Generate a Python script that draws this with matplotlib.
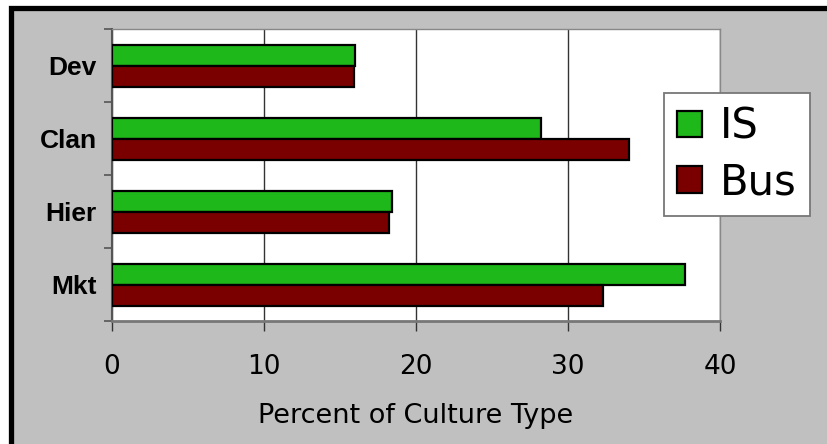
import matplotlib
matplotlib.use("Agg")
import matplotlib.pyplot as plt
from matplotlib.patches import Rectangle
import numpy as np

categories = ["Dev", "Clan", "Hier", "Mkt"]
is_values = [16.0, 28.2, 18.4, 37.7]
bus_values = [15.9, 34.0, 18.2, 32.3]
x_ticks = [0, 10, 20, 30, 40]
series_names = ["IS", "Bus"]

W, H = 827, 444
fig = plt.figure(figsize=(W / 100, H / 100), dpi=100, facecolor="white")

# gray panel with black frame (top/left visible)
fig.patches.append(Rectangle((10.5 / W, -0.2), 1.2, 1 - 8.5 / H + 0.2,
                             transform=fig.transFigure, facecolor="#C0C0C0",
                             edgecolor="black", linewidth=3.8, zorder=-10))

ax = fig.add_axes([112 / W, 1 - 321 / H, (720 - 112) / W, (321 - 29) / H])
ax.set_zorder(1)
ax.set_facecolor("white")

y = np.arange(len(categories))
bh = 0.285
ax.barh(y - bh / 2 + 0.01, is_values, height=bh, color="#1FB81A", edgecolor="black",
        linewidth=1.6, label=series_names[0], zorder=3)
ax.barh(y + bh / 2 + 0.01, bus_values, height=bh, color="#7A0000", edgecolor="black",
        linewidth=1.6, label=series_names[1], zorder=3)

ax.set_ylim(len(categories) - 0.5, -0.5)
ax.set_xlim(0, 40)

ax.set_yticks(y)
ax.set_yticklabels(categories, fontsize=19, fontweight="bold", family="Liberation Sans")
ax.tick_params(axis="y", length=0, pad=11)
ax.set_yticks(np.arange(-0.5, len(categories), 1), minor=True)
ax.tick_params(axis="y", which="minor", length=6, color="#555555", width=1.2)

ax.set_xticks(x_ticks)
ax.set_xticklabels([str(v) for v in x_ticks], fontsize=19, family="DejaVu Sans")
ax.tick_params(axis="x", length=7, color="#333333", width=1, pad=17)
ax.set_xlabel("Percent of Culture Type", fontsize=19.5, family="DejaVu Sans", labelpad=16)

ax.xaxis.grid(True, color="#333333", linewidth=1, zorder=1)
ax.set_axisbelow(True)

for s in ["top", "right"]:
    ax.spines[s].set_color("#888888")
    ax.spines[s].set_linewidth(1)
ax.spines["left"].set_color("#555555")
ax.spines["bottom"].set_color("#777777")
ax.spines["left"].set_linewidth(1.5)
ax.spines["bottom"].set_linewidth(2)

leg = fig.legend(loc="upper left", bbox_to_anchor=(664 / W, 1 - 93 / H),
                 prop={"family": "DejaVu Sans", "size": 30},
                 frameon=True, fancybox=False, edgecolor="#777777", framealpha=1,
                 handlelength=0.6, handleheight=0.6, handletextpad=0.45,
                 labelspacing=0.33, borderpad=0.3, borderaxespad=0)
leg.set_zorder(5)
leg.get_frame().set_linewidth(1.3)

fig.savefig("out.png", dpi=100, facecolor="white")
